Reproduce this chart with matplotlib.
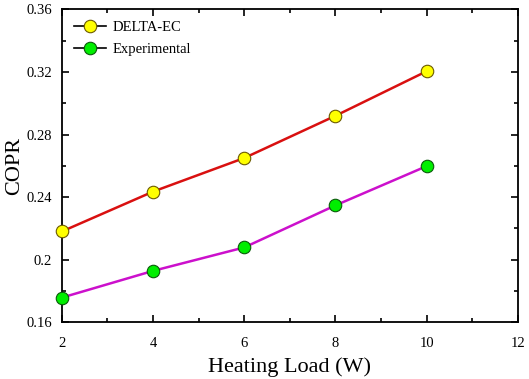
import matplotlib.pyplot as plt
from matplotlib.lines import Line2D

heating_load = [2, 4, 6, 8, 10]
copr_delta_ec = [0.218, 0.2435, 0.265, 0.292, 0.3205]
copr_experimental = [0.1757, 0.1928, 0.2078, 0.2347, 0.2598]

x_ticks = [2, 4, 6, 8, 10, 12]
y_ticks = [0.16, 0.2, 0.24, 0.28, 0.32, 0.36]
y_tick_labels = ["0.16", "0.2", "0.24", "0.28", "0.32", "0.36"]

plt.rcParams["font.family"] = ["Liberation Serif", "DejaVu Serif"]

fig = plt.figure(figsize=(5.29, 3.79), dpi=100)
ax = fig.add_axes([0.117, 0.150, 0.862, 0.825])

ax.plot(heating_load, copr_delta_ec, color="#d91010", linewidth=1.8, zorder=2)
ax.plot(heating_load, copr_experimental, color="#cc10cc", linewidth=1.8, zorder=2)
ax.plot(heating_load, copr_delta_ec, linestyle="none", marker="o", markersize=9,
        markerfacecolor="#ffff00", markeredgecolor="#6b5a00", markeredgewidth=0.8,
        clip_on=False, zorder=3)
ax.plot(heating_load, copr_experimental, linestyle="none", marker="o", markersize=9,
        markerfacecolor="#00ee00", markeredgecolor="#0a5a0a", markeredgewidth=0.8,
        clip_on=False, zorder=3)

ax.set_xlim(2, 12)
ax.set_ylim(0.16, 0.36)
ax.set_xticks(x_ticks)
ax.set_yticks(y_ticks)
ax.set_yticklabels(y_tick_labels)
ax.set_xticks([3, 5, 7, 9, 11], minor=True)
ax.set_yticks([0.18, 0.22, 0.26, 0.30, 0.34], minor=True)
ax.tick_params(which="both", direction="in", top=True, right=True, width=1.2)
ax.tick_params(which="major", length=5, labelsize=10.5)
ax.tick_params(axis="x", which="major", pad=11)
ax.tick_params(axis="y", which="major", pad=7)
ax.tick_params(which="minor", length=3)
for s in ax.spines.values():
    s.set_linewidth(1.3)

ax.set_xlabel("Heating Load (W)", fontsize=16, labelpad=5)
ax.set_ylabel("COPR", fontsize=16, labelpad=2)

handles = [
    Line2D([], [], color="black", linewidth=1.2, marker="o", markersize=9,
           markerfacecolor="#ffff00", markeredgecolor="#6b5a00", markeredgewidth=0.8),
    Line2D([], [], color="black", linewidth=1.2, marker="o", markersize=9,
           markerfacecolor="#00ee00", markeredgecolor="#0a5a0a", markeredgewidth=0.8),
]
ax.legend(handles, ["DELTA-EC", "Experimental"], loc="upper left", frameon=False,
          fontsize=10.5, handlelength=2.2, handletextpad=0.5, labelspacing=0.6,
          borderaxespad=0.4)

fig.savefig("out.png", dpi=100)
plt.close(fig)
